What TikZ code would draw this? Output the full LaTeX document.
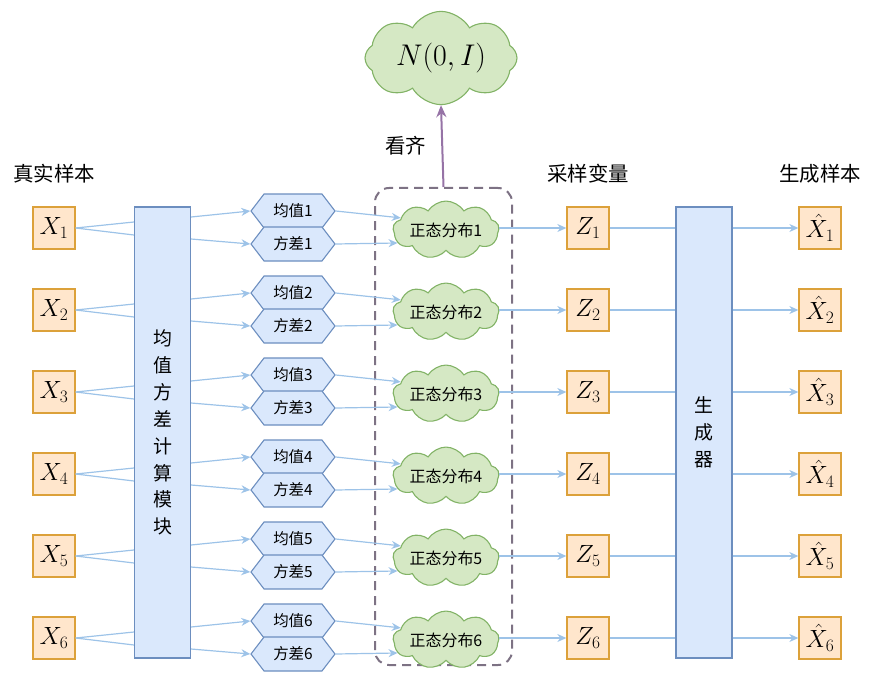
\RequirePackage{fix-cm}
\documentclass[tikz,border=0pt]{standalone}
\usepackage{fontspec}
\newfontfamily\cjk{Noto Sans CJK SC}
\usepackage{xcolor}
\definecolor{orfill}{HTML}{FFE6CC}
\definecolor{orline}{HTML}{DCA13A}
\definecolor{blfill}{HTML}{DAE8FC}
\definecolor{blline}{HTML}{6C8EBF}
\definecolor{grfill}{HTML}{D5E8C4}
\definecolor{grline}{HTML}{82B366}
\definecolor{arrblue}{HTML}{9DC3E8}
\definecolor{alignpurple}{HTML}{9673A6}
\definecolor{dashgray}{HTML}{7D7284}
\usetikzlibrary{positioning,arrows.meta,shapes.symbols,calc}
\tikzset{
  xbox/.style   ={rectangle, draw=orline, fill=orfill, line width=1.3bp, minimum width=42bp,
                  minimum height=42bp, inner sep=0pt, font=\fontsize{25}{25}\selectfont},
  modbox/.style ={rectangle, draw=blline, fill=blfill, line width=1.1bp, minimum width=56bp,
                  minimum height=451bp, inner sep=0pt, align=center,
                  font=\cjk\fontsize{19}{27}\selectfont},
  hexbox/.style ={signal, signal to=west and east, signal pointer angle=105, draw=blline,
                  fill=blfill, line width=1.1bp, minimum width=84bp, minimum height=34bp,
                  inner sep=0pt, font=\cjk\fontsize{15.5}{15.5}\selectfont},
  ncloud/.style ={cloud, cloud puffs=9, cloud puff arc=115, aspect=2.5, draw=grline,
                  fill=grfill, line width=1.1bp, inner sep=0pt, minimum width=106bp,
                  minimum height=44bp, font=\cjk\fontsize{16}{16}\selectfont},
  grpbox/.style ={rectangle, rounded corners=14bp, draw=dashgray, line width=2bp,
                  dash pattern=on 9bp off 6bp, minimum width=137bp, minimum height=477bp},
  arr/.style    ={-{Stealth[length=9bp,width=8bp]}, draw=arrblue, line width=1.2bp},
  ln/.style     ={draw=arrblue, line width=1.2bp},
  alignarr/.style={-{Stealth[length=12bp,width=10bp]}, draw=alignpurple, line width=2bp},
  lbl/.style    ={font=\cjk\fontsize{20.5}{20.5}\selectfont},
}

\begin{document}
\begin{tikzpicture}[x=1bp, y=-1bp]
  \useasboundingbox (0,0) rectangle (869,678);

  % column titles
  \node[lbl] (tx) at (54,174) {真实样本};
  \node[lbl] (tz) at (588,174) {采样变量};
  \node[lbl] (th) at (820,174) {生成样本};

  % the two big modules
  \node[modbox] (calc) at (162.5,432.5) {均\\值\\方\\差\\计\\算\\模\\块};
  \node[modbox] (gen) at (704,432.5) {生\\成\\器};

  % group of normal distributions and the standard normal
  \node[grpbox] (grp) at (443.5,426.5) {};
  \node[ncloud, cloud puffs=8, cloud puff arc=120, aspect=1.8, minimum width=152bp,
        minimum height=90bp, font=\fontsize{30}{30}\selectfont] (std) at (441,58) {$N(0,I)$};
  \draw[alignarr] (grp.north) -- (std.south) node[midway, left=12bp, lbl] (tal) {看齐};

  \foreach \i/\y in {1/228,2/310,3/392,4/474,5/556,6/638} {
    \node[xbox] (x\i) at (54,\y) {$X_{\i}$};
    \node[hexbox] (mean\i) at (293,\y-17) {均值\i};
    \node[hexbox] (var\i) at (293,\y+16) {方差\i};
    \node[ncloud] (nd\i) at (446,\y+2) {正态分布\i};
    \node[xbox] (z\i) at (588,\y) {$Z_{\i}$};
    \node[xbox] (xh\i) at (820,\y) {$\hat{X}_{\i}$};

    \draw[ln] (x\i.east) -- ([yshift=6bp]x\i.east -| calc.west);
    \draw[ln] (x\i.east) -- ([yshift=-7bp]x\i.east -| calc.west);
    \draw[arr] ([yshift=11bp]x\i.east -| calc.east) -- (mean\i.west);
    \draw[arr] ([yshift=-11bp]x\i.east -| calc.east) -- (var\i.west);
    \draw[arr] (mean\i.east) -- (nd\i.165);
    \draw[arr] (var\i.east) -- (nd\i.195);
    \draw[arr] (nd\i.east |- z\i.west) -- (z\i.west);
    \draw[ln] (z\i.east) -- (z\i.east -| gen.west);
    \draw[arr] (z\i.east -| gen.east) -- (xh\i.west);
  }
\end{tikzpicture}
\end{document}
